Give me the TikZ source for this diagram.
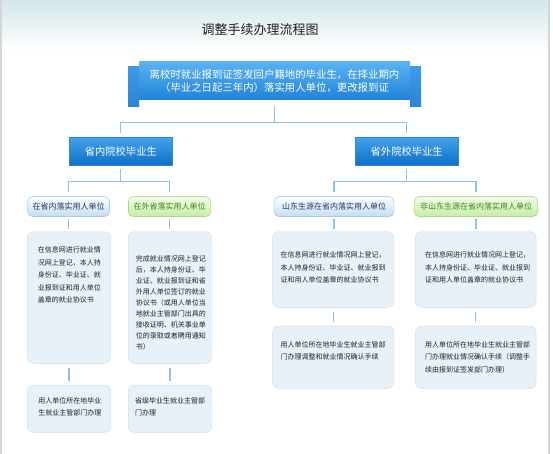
\documentclass[tikz,border=0pt]{standalone}
\usepackage{fontspec}
\newfontfamily\cjk{Noto Sans CJK SC}
\definecolor{headtop}{HTML}{D3E6EA}
\definecolor{titlegray}{HTML}{1E1E1E}
\definecolor{bordergray}{HTML}{D6D6D6}
\definecolor{bannertop}{HTML}{5AB2F2}
\definecolor{bannerbot}{HTML}{2082D8}
\definecolor{tabtop}{HTML}{3E9BE8}
\definecolor{tabbot}{HTML}{2A84D6}
\definecolor{bartop}{HTML}{45A3EC}
\definecolor{barbot}{HTML}{0D6EC6}
\definecolor{barline}{HTML}{2E86D6}
\definecolor{linkblue}{HTML}{8DC1E6}
\definecolor{tagline}{HTML}{8DB8E0}
\definecolor{tagblue}{HTML}{C5DCF2}
\definecolor{tagtext}{HTML}{183A68}
\definecolor{greenline}{HTML}{86D262}
\definecolor{greentop}{HTML}{F4FCEA}
\definecolor{taggreen}{HTML}{C5EDA5}
\definecolor{greentext}{HTML}{348A16}
\definecolor{infofill}{HTML}{E8F0F8}
\definecolor{infoline}{HTML}{C9E0F0}
\definecolor{infotext}{HTML}{222222}

\newcommand{\cellbody}[5]{\parbox[c][#2][t]{#1}{\leftskip=#3\relax\vspace*{#4}#5}}

\begin{document}
\begin{tikzpicture}[
    x=1pt,
    y=-1pt,
    link/.style={
      draw=linkblue,
      line width=1.2pt,
      shorten <=4pt,
      shorten >=4pt
    },
    banner/.style={
      top color=bannertop,
      bottom color=bannerbot,
      minimum width=271pt,
      minimum height=38pt,
      inner sep=0pt,
      align=center,
      text=white,
      font=\cjk\fontsize{10.4}{12.4}\selectfont
    },
    bluebar/.style={
      draw=barline,
      top color=bartop,
      bottom color=barbot,
      minimum width=103pt,
      minimum height=28pt,
      inner sep=0pt,
      text=white,
      font=\cjk\fontsize{10.3}{12}\selectfont
    },
    bluetag/.style={
      draw=tagline,
      rounded corners=5pt,
      top color=white,
      bottom color=tagblue,
      minimum height=20pt,
      inner sep=0pt,
      text=tagtext,
      font=\cjk\fontsize{8}{10}\selectfont
    },
    greentag/.style={
      bluetag,
      draw=greenline,
      top color=greentop,
      bottom color=taggreen,
      text=greentext
    },
    infobox/.style={
      draw=infoline,
      fill=infofill,
      rounded corners=6pt,
      inner sep=0pt,
      text=infotext,
      font=\cjk\fontsize{7}{12.4}\selectfont
    }
  ]
    \useasboundingbox (0,0) rectangle (553,454);
    \fill[top color=headtop, bottom color=white] (0,0) rectangle (548,50);
    \draw[bordergray, line width=1.5pt] (0.8,0) -- (0.8,454);
    \draw[bordergray, line width=2pt] (548.5,0) -- (548.5,454);

    \node[font=\cjk\fontsize{13}{15}\selectfont, text=titlegray] (title) at (260,30) {调整手续办理流程图};

    \fill[top color=tabtop, bottom color=tabbot] (128,66.7) rectangle (139,106.7);
    \fill[top color=tabtop, bottom color=tabbot] (410,66.7) rectangle (421,106.7);
    \node[banner] (banner) at (274.5,81) {离校时就业报到证签发回户籍地的毕业生，在择业期内\\（毕业之日起三年内）落实用人单位，更改报到证};

    \node[bluebar] (p1) at (120.8,151.2) {省内院校毕业生};
    \node[bluebar] (p2) at (406.7,151.2) {省外院校毕业生};

    \node[bluetag, minimum width=81.6pt] (a1) at (68.5,206.6) {在省内落实用人单位};
    \node[greentag, minimum width=82.4pt] (a2) at (169.5,206.6) {在外省落实用人单位};
    \node[bluetag, minimum width=120pt] (b1) at (334,206.6) {山东生源在省内落实用人单位};
    \node[greentag, minimum width=123.7pt] (b2) at (476,206.6) {非山东生源在省内落实用人单位};

    \node[infobox] (ia1) at (69,297.5) {\cellbody{83.4pt}{131.6pt}{10.5pt}{15.3pt}{在信息网进行就业情\\况网上登记，本人持\\身份证、毕业证、就\\业报到证和用人单位\\盖章的就业协议书}};
    \node[infobox] (ia2) at (170,297.5) {\cellbody{83.4pt}{131.6pt}{7.5pt}{23.6pt}{\fontsize{7}{11}\selectfont 完成就业情况网上登记\\后，本人持身份证、毕\\业证、就业报到证和省\\外用人单位签订的就业\\协议书（或用人单位当\\地就业主管部门出具的\\接收证明、机关事业单\\位的录取或者聘用通知\\书）}};
    \node[infobox] (ib1) at (333.3,269.5) {\cellbody{121.3pt}{75.6pt}{8pt}{20.3pt}{在信息网进行就业情况网上登记，\\本人持身份证、毕业证、就业报到\\证和用人单位盖章的就业协议书}};
    \node[infobox] (ib2) at (475.7,269.5) {\cellbody{120.7pt}{75.6pt}{9.7pt}{20.3pt}{在信息网进行就业情况网上登记，\\本人持身份证、毕业证、就业报到\\证和用人单位盖章的就业协议书}};

    \node[infobox] (ja1) at (69,408.7) {\cellbody{83.4pt}{47.3pt}{11pt}{12.3pt}{用人单位所在地毕业\\生就业主管部门办理}};
    \node[infobox] (ja2) at (170,408.7) {\cellbody{83.4pt}{47.3pt}{6.7pt}{12.3pt}{省级毕业生就业主管部\\门办理}};
    \node[infobox] (jb1) at (333.3,357.2) {\cellbody{121.3pt}{62.3pt}{8pt}{15.6pt}{用人单位所在地毕业生就业主管部\\门办理调整和就业情况确认手续}};
    \node[infobox] (jb2) at (475.7,357.2) {\cellbody{120.7pt}{62.3pt}{9.7pt}{15.6pt}{用人单位所在地毕业生就业主管部\\门办理就业情况确认手续（调整手\\续由报到证签发部门办理）}};

    \coordinate (fork) at (274.5,122.7);
    \coordinate (split1) at (120.8,181.7);
    \coordinate (split2) at (406.7,181.7);

    \draw[link, shorten <=6pt, shorten >=0pt] (banner.south) -- (fork);
    \draw[link] (p1.north) |- (fork) -| (p2.north);
    \draw[link, shorten >=0pt] (p1.south) -- (split1);
    \draw[link, shorten >=0pt] (p2.south) -- (split2);
    \draw[link] (a1.north) |- (split1) -| (a2.north);
    \draw[link] (b1.north) |- (split2) -| (b2.north);

    \draw[link, shorten <=2.5pt, shorten >=2.5pt] (a1.south) -- (a1.south |- ia1.north);
    \draw[link, shorten <=2.5pt, shorten >=2.5pt] (a2.south) -- (a2.south |- ia2.north);
    \draw[link, shorten <=2.5pt, shorten >=2.5pt] (b1.south) -- (b1.south |- ib1.north);
    \draw[link, shorten <=2.5pt, shorten >=2.5pt] (b2.south) -- (b2.south |- ib2.north);

    \draw[link] (ia1.south) -- (ja1.north);
    \draw[link] (ia2.south) -- (ja2.north);
    \draw[link] (ib1.south) -- (jb1.north);
    \draw[link] (ib2.south) -- (jb2.north);
  \end{tikzpicture}
\end{document}
